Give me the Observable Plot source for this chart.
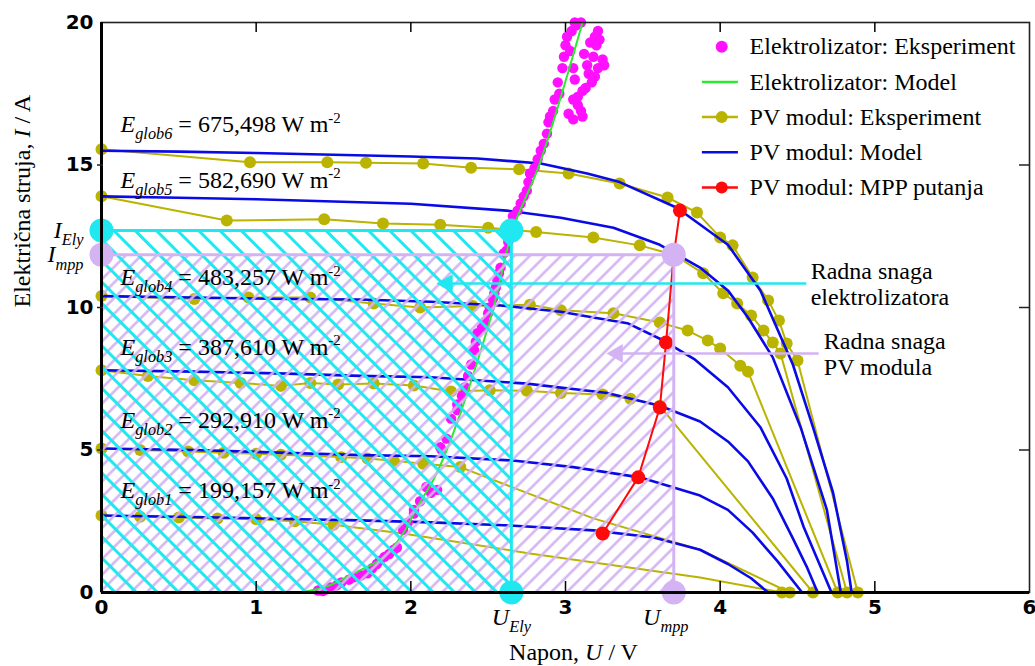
<!DOCTYPE html>
<html><head><meta charset="utf-8">
<script src="https://cdn.jsdelivr.net/npm/d3@7"></script>
<script src="https://cdn.jsdelivr.net/npm/@observablehq/plot@0.6"></script>
<style>
body{margin:0;background:#fff;}
#chart{width:1035px;height:666px;}
</style></head><body><div id="chart"></div>
<script>
// ---------- key operating points ----------
const UEly = 2.65, IEly = 12.7;     // electrolyser working point
const Umpp = 3.70, Impp = 11.85;    // PV maximum power point
const xTicks = [0, 1, 2, 3, 4, 5, 6];
const yTicks = [0, 5, 10, 15, 20];
const innerXTicks = [1, 2, 3, 4, 5];
const innerYTicks = [5, 10, 15];

const irradiance = ["199,157", "292,910", "387,610", "483,257", "582,690", "675,498"];
const irradianceLabelY = [3.58, 6.04, 8.6, 11.05, 14.46, 16.42];

// ---------- PV module: model (blue) ----------
const pvModel1 = [[0,2.7],[0.6,2.65],[1.2,2.58],[1.67,2.53],[2.13,2.46],[2.64,2.35],[3.18,2.18],[3.57,1.93],[3.87,1.5],[4.05,1.0],[4.2,0.5],[4.31,0]];
const pvModel2 = [[0,5.05],[0.6,5.0],[1.2,4.9],[1.67,4.82],[2.13,4.78],[2.66,4.63],[3.05,4.4],[3.48,4.04],[3.87,3.4],[4.05,2.9],[4.21,2.1],[4.37,1.1],[4.53,0]];
const pvModel3 = [[0,7.8],[0.6,7.75],[1.2,7.68],[1.67,7.6],[2.13,7.55],[2.75,7.33],[3.27,7.0],[3.61,6.55],[3.87,6.0],[4.05,5.3],[4.18,4.6],[4.34,3.3],[4.47,1.9],[4.56,0.9],[4.63,0]];
const pvModel4 = [[0,10.4],[0.6,10.35],[1.2,10.3],[1.67,10.28],[2.13,10.2],[2.58,10.07],[2.97,9.85],[3.18,9.65],[3.4,9.45],[3.63,8.85],[3.83,8.2],[4.05,7.2],[4.26,5.8],[4.43,4.0],[4.54,2.3],[4.72,0]];
const pvModel5 = [[0,13.9],[0.5,13.85],[1.0,13.8],[1.5,13.72],[2.0,13.64],[2.62,13.4],[2.97,13.15],[3.31,12.8],[3.61,12.2],[3.87,11.4],[4.05,10.6],[4.18,9.65],[4.34,8.25],[4.52,5.8],[4.69,2.9],[4.78,0]];
const pvModel6 = [[0,15.5],[0.5,15.47],[1.0,15.42],[1.5,15.36],[2.0,15.3],[2.43,15.23],[2.84,15.05],[3.14,14.7],[3.35,14.4],[3.72,13.5],[4.05,12.2],[4.26,10.6],[4.47,8.0],[4.6,5.8],[4.73,3.5],[4.82,1.1],[4.85,0]];

// ---------- PV module: experiment (olive dots) ----------
const pvExp1 = [[0,2.7],[0.25,2.66],[0.5,2.63],[0.75,2.6],[1.0,2.57],[1.25,2.5],[1.5,2.38],[4.40,0]];
const pvExp2 = [[0,5.05],[0.25,5.0],[0.56,4.95],[0.79,4.9],[1.0,4.87],[1.16,4.83],[1.55,4.75],[1.72,4.7],[1.89,4.62],[2.08,4.52],[2.32,4.4],[4.45,0]];
const pvExp3 = [[0,7.8],[0.3,7.6],[0.6,7.45],[0.9,7.35],[1.16,7.25],[1.35,7.35],[1.53,7.3],[1.76,7.33],[2.02,7.26],[2.26,7.05],[2.51,7.1],[2.75,7.08],[2.97,7.0],[3.24,6.95],[3.42,6.8],[3.61,6.55],[4.60,0]];
const pvExp4 = [[0,10.4],[0.6,10.3],[0.95,10.35],[1.35,10.35],[1.76,10.14],[2.06,10.0],[2.4,10.05],[2.77,10.1],[2.97,9.9],[3.31,9.8],[3.61,9.47],[3.79,9.19],[3.92,8.84],[4.0,8.56],[4.13,7.96],[4.18,7.75],[4.76,0]];
const pvExp5 = [[0,13.9],[0.81,13.05],[1.44,13.1],[1.82,12.95],[2.19,12.9],[2.5,12.8],[2.81,12.65],[3.18,12.46],[3.48,12.18],[3.70,11.85],[3.89,11.2],[4.02,10.5],[4.11,10.14],[4.2,9.72],[4.28,9.19],[4.34,8.77],[4.39,8.39],[4.82,0]];
const pvExp6 = [[0,15.55],[0.96,15.1],[1.46,15.1],[1.71,15.08],[2.08,15.05],[2.39,14.9],[2.70,14.85],[3.02,14.7],[3.35,14.35],[3.66,13.86],[3.85,13.33],[4.0,12.46],[4.08,12.18],[4.21,11.05],[4.31,10.25],[4.38,9.54],[4.43,8.74],[4.5,8.14],[4.89,0]];
// line-only vertices of the measured curves (no marker)
const pvExpBends1 = [[1.95,2.07],[2.77,1.37],[3.87,0.53]];
const pvExpBends2 = [[2.7,3.6],[3.18,2.6],[3.87,1.5]];

// ---------- MPP path (red) ----------
const mppPath = [[3.24,2.07],[3.47,4.04],[3.61,6.49],[3.65,8.77],[3.70,11.85],[3.74,13.4]];

// ---------- Electrolyser ----------
const elyModel = [[1.29,0],[1.45,0.2],[1.63,0.67],[1.82,1.23],[1.95,2.07],[2.04,2.98],[2.15,4.0],[2.24,5.1],[2.34,6.6],[2.43,8.1],[2.53,9.9],[2.66,12.75],[2.83,15.0],[3.11,20]];
const elyExp = [[1.40,0.07],[1.43,0.05],[1.45,0.1],[1.48,0.18],[1.52,0.25],[1.55,0.35],[1.6,0.45],[1.63,0.53],[1.68,0.6],[1.72,0.67],[1.75,0.85],[1.78,1.0],[1.8,1.12],[1.83,1.25],[1.86,1.35],[1.89,1.5],[1.91,1.58],[1.95,2.2],[1.98,2.45],[2.02,2.77],[2.02,2.9],[2.06,3.2],[2.1,3.7],[2.13,3.5],[2.17,3.6],[2.19,5.1],[2.2,5.0],[2.23,5.4],[2.26,6.1],[2.3,6.4],[2.3,6.6],[2.33,6.9],[2.35,7.2],[2.37,7.6],[2.39,8.0],[2.41,8.5],[2.42,8.8],[2.43,9.1],[2.46,9.3],[2.48,9.5],[2.5,9.8],[2.51,10.0],[2.53,10.3],[2.54,10.5],[2.55,10.7],[2.56,10.95],[2.57,11.2],[2.58,11.4],[2.60,11.9],[2.62,12.0],[2.63,12.3],[2.64,12.6],[2.65,12.9],[2.66,13.2],[2.69,13.4],[2.71,13.65],[2.73,13.9],[2.75,14.1],[2.76,14.4],[2.77,14.7],[2.8,14.9],[2.82,15.2],[2.84,15.5],[2.86,15.75],[2.88,16.1],[2.89,16.5],[2.9,16.7],[2.92,16.9],[2.93,17.3],[2.95,17.9],[2.96,17.5],[2.98,18.4],[2.99,18.8],[3.0,19.2],[3.01,19.5],[3.03,19.0],[3.04,19.7],[3.05,18.4],[3.06,20],[3.07,19.9],[3.1,20],[3.21,19.7],[3.22,19.4],[3.2,19.2],[3.19,19.5],[3.18,18.8],[3.21,18.4],[3.24,18.7],[3.25,18.5],[3.15,18.2],[3.17,17.9],[3.19,18.1],[3.13,17.7],[3.11,17.6],[3.08,17.4],[3.05,17.3],[3.1,16.9],[3.08,17.1],[3.02,16.8],[3.05,16.6],[3.11,16.7],[3.14,18.5],[3.06,18.0],[3.12,18.9],[3.16,19.3]];

// ---------- annotations / legend ----------
const legendLabels = ["Elektrolizator: Eksperiment", "Elektrolizator: Model", "PV modul: Eksperiment", "PV modul: Model", "PV modul: MPP putanja"];
const annotations = [
  {label: "Radna snaga\nelektrolizatora", y: 10.84, from: 4.56, to: 2.19, tx: 4.585},
  {label: "Radna snaga\nPV modula", y: 8.39, from: 4.64, to: 3.29, tx: 4.67}
];

// ---------- styles ----------
const cyan = "#20e8f0", lav = "#d3b3f3", olive = "#bab300", blue = "#0a0ae6", green = "#2ee82e", magenta = "#ff10ff", red = "#ff0a0a";
const serif = "'Liberation Serif','Times New Roman',serif";

const pvModels = [pvModel1, pvModel2, pvModel3, pvModel4, pvModel5, pvModel6];
const pvExps = [pvExp1, pvExp2, pvExp3, pvExp4, pvExp5, pvExp6];
const pvBends = [pvExpBends1, pvExpBends2, [], [], [], []];
const modelRows = pvModels.flatMap((pts, k) => pts.map(([V, I]) => ({k, V, I})));
const expRows = pvExps.flatMap((pts, k) => pts.map(([V, I]) => ({k, V, I})));
const expLineRows = pvExps.flatMap((pts, k) => [...pts, ...pvBends[k]].sort((a, b) => a[0] - b[0]).map(([V, I]) => ({k, V, I})));
const P = d => d[0], Q = d => d[1];

const lY = i => 19.15 - i * 1.235;
const legendMarks = [
  Plot.dot([0], {x: 4.01, y: lY(0), r: 6, fill: magenta}),
  Plot.ruleY([lY(1)], {x1: 3.885, x2: 4.118, stroke: green, strokeWidth: 2.5}),
  Plot.ruleY([lY(2)], {x1: 3.885, x2: 4.118, stroke: olive, strokeWidth: 2.5}),
  Plot.dot([0], {x: 4.01, y: lY(2), r: 6, fill: olive}),
  Plot.ruleY([lY(3)], {x1: 3.885, x2: 4.118, stroke: blue, strokeWidth: 2.5}),
  Plot.ruleY([lY(4)], {x1: 3.885, x2: 4.118, stroke: red, strokeWidth: 2.5}),
  Plot.dot([0], {x: 4.01, y: lY(4), r: 6, fill: red}),
  Plot.text(legendLabels, {x: 4.19, y: (d, i) => lY(i), text: d => d, textAnchor: "start", lineAnchor: "middle", fontSize: 24, fontFamily: serif, fill: "#000"})
];

const cyanOutline = [[0, IEly], [UEly, IEly], [UEly, 0]];
const lavOutline = [[0, Impp], [Umpp, Impp], [Umpp, 0]];
const tickFont = {fontSize: 20, fontWeight: "bold", fontFamily: "DejaVu Sans", fill: "#000"};

const chart = Plot.plot({
  width: 1035, height: 666,
  marginLeft: 101, marginRight: 6, marginTop: 22, marginBottom: 74,
  x: {domain: [0, 6]},
  y: {domain: [0, 20]},
  style: {background: "#fff"},
  marks: [
    // PV experiment
    Plot.line(expLineRows, {x: "V", y: "I", z: "k", stroke: olive, strokeWidth: 2}),
    Plot.dot(expRows, {x: "V", y: "I", r: 6, fill: olive}),
    // PV model
    Plot.line(modelRows, {x: "V", y: "I", z: "k", stroke: blue, strokeWidth: 2.6}),
    // electrolyser
    Plot.dot(elyExp, {x: P, y: Q, r: 5.2, fill: magenta}),
    Plot.line(elyModel, {x: P, y: Q, stroke: green, strokeWidth: 2, curve: "catmull-rom"}),
    // hatched power areas
    Plot.rect([{x1: 0, x2: Umpp, y1: 0, y2: Impp}], {x1: "x1", x2: "x2", y1: "y1", y2: "y2", fill: "url(#hatchPurple)"}),
    Plot.rect([{x1: 0, x2: UEly, y1: 0, y2: IEly}], {x1: "x1", x2: "x2", y1: "y1", y2: "y2", fill: "url(#hatchCyan)"}),
    // MPP path
    Plot.line(mppPath, {x: P, y: Q, stroke: red, strokeWidth: 2}),
    Plot.dot(mppPath, {x: P, y: Q, r: 7, fill: red}),
    // outlines
    Plot.line(lavOutline, {x: P, y: Q, stroke: lav, strokeWidth: 3}),
    Plot.line(cyanOutline, {x: P, y: Q, stroke: cyan, strokeWidth: 3}),
    // annotation arrows
    Plot.ruleY([annotations[0]], {y: "y", x1: "from", x2: "to", stroke: cyan, strokeWidth: 2.5}),
    Plot.ruleY([annotations[1]], {y: "y", x1: "from", x2: "to", stroke: lav, strokeWidth: 2.5}),
    Plot.dot([annotations[0]], {x: "to", y: "y", symbol: "triangle", rotate: -90, r: 7, fill: cyan, dx: 7}),
    Plot.dot([annotations[1]], {x: "to", y: "y", symbol: "triangle", rotate: -90, r: 7, fill: lav, dx: 7}),
    Plot.text(annotations, {x: "tx", y: "y", text: "label", textAnchor: "start", lineAnchor: "middle", lineHeight: 1.1, fontSize: 24, fontFamily: serif, fill: "#000"}),
    // big markers
    Plot.dot(lavOutline, {x: P, y: Q, r: 12, fill: lav}),
    Plot.dot(cyanOutline, {x: P, y: Q, r: 12, fill: cyan}),
    // frame and axes
    Plot.frame({stroke: "#222", strokeWidth: 1.6}),
    Plot.ruleX([0], {stroke: "#000", strokeWidth: 3}),
    Plot.ruleY([0], {stroke: "#000", strokeWidth: 3}),
    Plot.tickX(innerXTicks, {x: d => d, insetTop: 559, stroke: "#000", strokeWidth: 1.5}),
    Plot.tickX(innerXTicks, {x: d => d, insetBottom: 560, stroke: "#000", strokeWidth: 1.5}),
    Plot.tickY(innerYTicks, {y: d => d, insetLeft: 918, stroke: "#222", strokeWidth: 1.5}),
    Plot.tickY(innerYTicks, {y: d => d, insetRight: 922, dx: -4, stroke: "#222", strokeWidth: 1.5}),
    Plot.axisX(xTicks, {anchor: "bottom", tickSize: 0, tickPadding: 7, label: null, tickFormat: d => String(d), ...tickFont}),
    Plot.axisY(yTicks, {anchor: "left", tickSize: 0, tickPadding: 8, label: null, tickFormat: d => String(d), ...tickFont}),
    // irradiance labels
    Plot.text(irradiance, {x: 0.123, y: (d, i) => irradianceLabelY[i], text: (d, i) => `$E$_{glob${i + 1}} = ${d} W m^{-2}`, textAnchor: "start", lineAnchor: "middle", fontSize: 24, fontFamily: serif, fill: "#000"}),
    // working point labels
    Plot.text(["$I$_{Ely}"], {x: 0, y: IEly, dx: -18, textAnchor: "end", lineAnchor: "middle", fontSize: 24, fontFamily: serif, fill: "#000"}),
    Plot.text(["$I$_{mpp}"], {x: 0, y: Impp, dx: -18, textAnchor: "end", lineAnchor: "middle", fontSize: 24, fontFamily: serif, fill: "#000"}),
    Plot.text(["$U$_{Ely}"], {x: UEly, y: 0, dy: 25, textAnchor: "middle", lineAnchor: "middle", fontSize: 24, fontFamily: serif, fill: "#000"}),
    Plot.text(["$U$_{mpp}"], {x: Umpp, y: 0, dy: 25, dx: -8, textAnchor: "middle", lineAnchor: "middle", fontSize: 24, fontFamily: serif, fill: "#000"}),
    // axis titles
    Plot.text(["Napon, $U$ / V"], {frameAnchor: "bottom", dx: 8, dy: 60, lineAnchor: "middle", fontSize: 24, fontFamily: serif, fill: "#000"}),
    Plot.text(["Električna struja, $I$ / A"], {frameAnchor: "left", dx: -79, rotate: -90, lineAnchor: "middle", fontSize: 24, fontFamily: serif, fill: "#000"}),
    ...legendMarks
  ]
});

document.getElementById("chart").appendChild(chart);

// hatch patterns
const svgNS = "http://www.w3.org/2000/svg";
const defs = document.createElementNS(svgNS, "defs");
defs.innerHTML = `
<pattern id="hatchCyan" patternUnits="userSpaceOnUse" width="15" height="15" patternTransform="rotate(-45)">
  <line x1="7.5" y1="-1" x2="7.5" y2="16" stroke="${cyan}" stroke-width="3"/></pattern>
<pattern id="hatchPurple" patternUnits="userSpaceOnUse" width="11" height="11" patternTransform="rotate(45)">
  <line x1="5.5" y1="-1" x2="5.5" y2="12" stroke="${lav}" stroke-width="2.5"/></pattern>`;
chart.insertBefore(defs, chart.firstChild);

// rich text: $italic$, _{sub}, ^{sup}
chart.querySelectorAll("text").forEach(t => {
  const s = t.textContent;
  if (!/[$_^]/.test(s) || t.querySelector("tspan")) return;
  const fsz = parseFloat(getComputedStyle(t).fontSize) || 24;
  t.textContent = "";
  const re = /\$([^$]+)\$|_\{([^}]*)\}|\^\{([^}]*)\}|([^$_^]+)/g;
  let m, shift = 0;
  while ((m = re.exec(s))) {
    const ts = document.createElementNS(svgNS, "tspan");
    let target = 0;
    if (m[1]) { ts.textContent = m[1]; ts.setAttribute("font-style", "italic"); }
    else if (m[2] !== undefined) { ts.textContent = m[2]; ts.setAttribute("font-style", "italic"); ts.setAttribute("font-size", fsz * 0.68); target = fsz * 0.3; }
    else if (m[3] !== undefined) { ts.textContent = m[3]; ts.setAttribute("font-size", fsz * 0.62); target = -fsz * 0.4; }
    else ts.textContent = m[4];
    if (target !== shift) { ts.setAttribute("dy", target - shift); shift = target; }
    t.appendChild(ts);
  }
});
</script>
</body></html>
